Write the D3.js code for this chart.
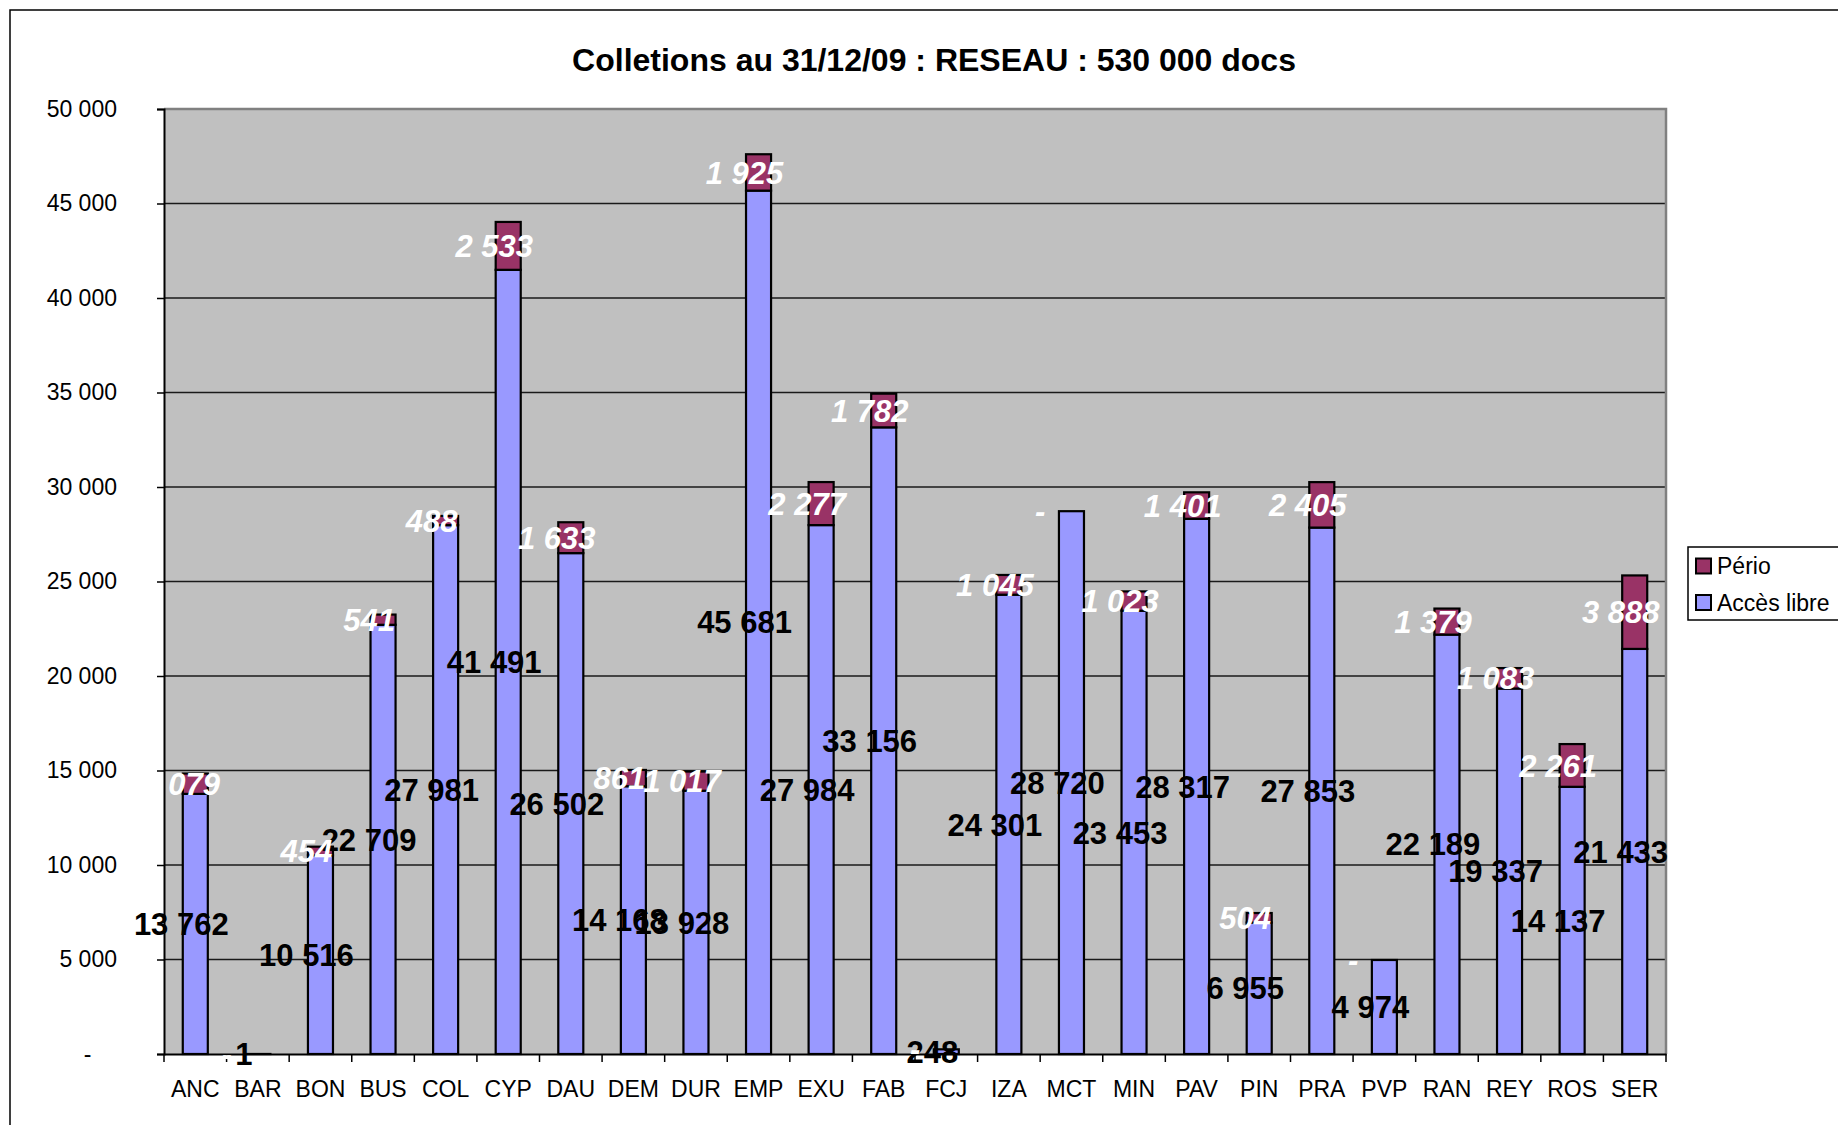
<!DOCTYPE html>
<html>
<head>
<meta charset="utf-8">
<script src="https://cdn.jsdelivr.net/npm/d3@7"></script>
<style>
body { margin: 0; background: #fff; }
text { font-family: "Liberation Sans", Arial, sans-serif; }
</style>
</head>
<body>
<svg width="1838" height="1125"></svg>
<script>
// donnees
var sites = ["ANC","BAR","BON","BUS","COL","CYP","DAU","DEM","DUR","EMP","EXU","FAB",
             "FCJ","IZA","MCT","MIN","PAV","PIN","PRA","PVP","RAN","REY","ROS","SER"];
var accesLibre = [13762, 1, 10516, 22709, 27981, 41491, 26502, 14168, 13928, 45681, 27984, 33156,
                  248, 24301, 28720, 23453, 28317, 6955, 27853, 4974, 22189, 19337, 14137, 21433];
var perio = [1079, 0, 454, 541, 488, 2533, 1633, 861, 1017, 1925, 2277, 1782,
             0, 1045, 0, 1023, 1401, 504, 2405, 0, 1379, 1083, 2261, 3888];
var yTicks = [0, 5000, 10000, 15000, 20000, 25000, 30000, 35000, 40000, 45000, 50000];
var series = ["Accès libre", "Pério"];
var titre = "Colletions au 31/12/09 : RESEAU : 530 000 docs";

var colors = {"Accès libre": "#9999ff", "Pério": "#993366"};

var svg = d3.select("svg"),
    pLeft = 164, pRight = 1666, pTop = 109, pBottom = 1054;

var loc = d3.formatLocale({decimal: ",", thousands: " ", grouping: [3], currency: ["", ""]});
var fmt0 = loc.format(",d");
// format "comptabilite" : zero => tiret
function fmt(v) { return v === 0 ? "-\u2007\u2007" : fmt0(v); }

var x = d3.scaleBand().domain(sites).range([pLeft, pRight]).paddingInner(0.6).paddingOuter(0.3);
var y = d3.scaleLinear().domain([0, 50000]).range([pBottom, pTop]);

var rows = sites.map(function(s, i) {
  return {site: s, "Accès libre": accesLibre[i], "Pério": perio[i]};
});
var stacked = d3.stack().keys(series)(rows);

// cadre du graphique
svg.append("rect").attr("x", 10).attr("y", 10).attr("width", 2000).attr("height", 2000)
  .attr("fill", "#fff").attr("stroke", "#000").attr("stroke-width", 1.5);

svg.append("text")
  .attr("x", 934).attr("y", 71)
  .attr("text-anchor", "middle")
  .style("font-size", "32px").style("font-weight", "bold")
  .text(titre);

// zone de tracé
svg.append("rect").attr("x", pLeft).attr("y", pTop).attr("width", pRight - pLeft).attr("height", pBottom - pTop)
  .attr("fill", "#c0c0c0");

svg.append("g").selectAll("line")
  .data(yTicks.slice(1, -1))
  .enter().append("line")
    .attr("x1", pLeft).attr("x2", pRight)
    .attr("y1", function(d) { return y(d); }).attr("y2", function(d) { return y(d); })
    .attr("stroke", "#1a1a1a").attr("stroke-width", 1.3);

svg.append("path")
  .attr("d", "M" + pLeft + "," + pTop + "H" + pRight + "V" + pBottom)
  .attr("fill", "none").attr("stroke", "#808080").attr("stroke-width", 2.5);

// barres
var layer = svg.append("g").selectAll("g")
  .data(stacked)
  .enter().append("g")
    .attr("fill", function(d) { return colors[d.key]; });

layer.selectAll("rect")
  .data(function(d) { return d; })
  .enter().append("rect")
    .attr("x", function(d) { return x(d.data.site); })
    .attr("width", x.bandwidth())
    .attr("y", function(d) { return y(d[1]); })
    .attr("height", function(d) { return y(d[0]) - y(d[1]); })
    .attr("stroke", "#000").attr("stroke-width", 2.2);

// axes
var yAxis = svg.append("g")
  .attr("transform", "translate(" + pLeft + ",0)")
  .call(d3.axisLeft(y).tickValues(yTicks).tickFormat(fmt).tickSize(7).tickPadding(40));
yAxis.select(".domain").attr("stroke", "#000").attr("stroke-width", 2);
yAxis.selectAll("line").attr("stroke", "#000").attr("stroke-width", 1.5);
yAxis.selectAll("text").style("font-size", "23px").attr("fill", "#000").attr("font-family", null);

var xAxis = svg.append("g")
  .attr("transform", "translate(0," + pBottom + ")")
  .call(d3.axisBottom(x).tickSize(0).tickPadding(27));
xAxis.select(".domain").attr("stroke", "#000").attr("stroke-width", 2);
xAxis.selectAll("text").style("font-size", "23px").attr("fill", "#000").attr("font-family", null);

// petites graduations entre les categories
svg.append("g").selectAll("line")
  .data(d3.range(sites.length + 1))
  .enter().append("line")
    .attr("x1", function(i) { return pLeft + i * x.step(); })
    .attr("x2", function(i) { return pLeft + i * x.step(); })
    .attr("y1", pBottom).attr("y2", pBottom + 8)
    .attr("stroke", "#000").attr("stroke-width", 1.5);

// etiquettes de valeurs
var labels = svg.append("g").selectAll("g")
  .data(stacked)
  .enter().append("g");

labels.selectAll("text")
  .data(function(d) { return d.map(function(p) { p.key = d.key; return p; }); })
  .enter().append("text")
    .attr("x", function(d) { return x(d.data.site) + x.bandwidth() / 2 - 14; })
    .attr("y", function(d) { return y((d[0] + d[1]) / 2); })
    .attr("dy", "0.36em")
    .attr("text-anchor", "middle")
    .style("font-size", "31px").style("font-weight", "bold")
    .style("font-style", function(d) { return d.key == "Pério" ? "italic" : "normal"; })
    .attr("fill", function(d) { return d.key == "Pério" ? "#fff" : "#000"; })
    .text(function(d) { return fmt(d.data[d.key]); });

// legende
var legend = svg.append("g");
legend.append("rect").attr("x", 1688).attr("y", 547).attr("width", 300).attr("height", 73)
  .attr("fill", "#fff").attr("stroke", "#000").attr("stroke-width", 1.5);

var item = legend.selectAll(".item")
  .data(["Pério", "Accès libre"])
  .enter().append("g")
    .attr("class", "item")
    .attr("transform", function(d, i) { return "translate(1696," + (566 + i * 36.5) + ")"; });

item.append("rect").attr("x", 0).attr("y", -7.5).attr("width", 15).attr("height", 15)
  .attr("fill", function(d) { return colors[d]; })
  .attr("stroke", "#000").attr("stroke-width", 2);

item.append("text").attr("x", 21).attr("dy", "0.36em")
  .style("font-size", "23px")
  .text(function(d) { return d; });
</script>
</body>
</html>
